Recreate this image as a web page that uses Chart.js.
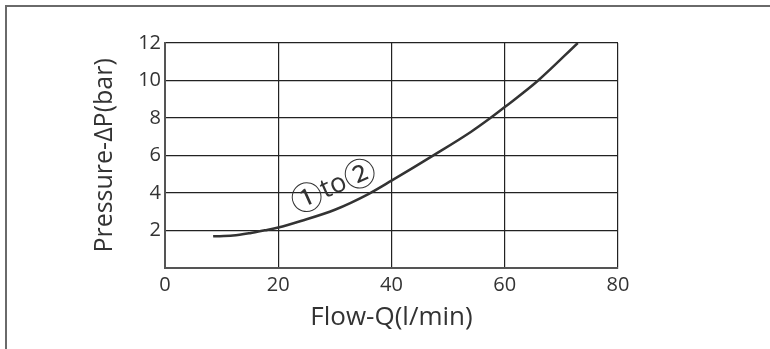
<!DOCTYPE html>
<html>
<head>
<meta charset="utf-8">
<script src="https://cdn.jsdelivr.net/npm/chart.js@4.4.1/dist/chart.umd.min.js"></script>
<style>
  html, body { margin: 0; padding: 0; background: #fff; }
  #wrap { width: 770px; height: 349px; position: relative; }
</style>
</head>
<body>
<div id="wrap"><canvas id="flowChart" width="770" height="349"></canvas></div>
<script>
// flow (l/min) and pressure drop (bar)
const flowValues = [8.5, 12, 15, 17.6, 20, 24, 30, 36, 40, 47.4, 54, 57.4, 60, 65.9, 72.9];
const pressureValues = [1.68, 1.72, 1.85, 2.0, 2.15, 2.5, 3.1, 3.95, 4.65, 6.0, 7.25, 7.98, 8.58, 10.0, 12.0];

const xTicks = [0, 20, 40, 60, 80];
const yTicks = [0, 2, 4, 6, 8, 10, 12];

// curve tag: circled port numbers around "to"
const curveLabelParts = ['\u2460', 'to', '\u2461'];
const curveLabelAt = { x: 29.7, y: 4.4 };

const points = flowValues.map((q, i) => ({ x: q, y: pressureValues[i] }));

// outer frame line (top + left) like the scanned sheet
const framePlugin = {
    id: 'frame',
    beforeDraw(chart) {
        const ctx = chart.ctx;
        ctx.save();
        ctx.strokeStyle = '#6a6a6a';
        ctx.lineWidth = 2;
        ctx.beginPath();
        ctx.moveTo(6, chart.height);
        ctx.lineTo(6, 6);
        ctx.lineTo(chart.width, 6);
        ctx.stroke();
        ctx.restore();
    }
};

// "①to②" written along the curve
const curveLabelPlugin = {
    id: 'curveLabel',
    afterDatasetsDraw(chart) {
        const { ctx, scales } = chart;
        const px = scales.x.getPixelForValue(curveLabelAt.x);
        const py = scales.y.getPixelForValue(curveLabelAt.y);
        const fonts = [
            '32px "Noto Sans CJK JP", sans-serif',
            '27px "Open Sans", sans-serif',
            '32px "Noto Sans CJK JP", sans-serif'
        ];
        ctx.save();
        ctx.translate(px, py);
        ctx.rotate(-24 * Math.PI / 180);
        ctx.fillStyle = '#333';
        ctx.textAlign = 'left';
        ctx.textBaseline = 'middle';
        const widths = curveLabelParts.map((t, i) => {
            ctx.font = fonts[i];
            return ctx.measureText(t).width;
        });
        let cx = -widths.reduce((a, b) => a + b, 0) / 2;
        curveLabelParts.forEach((t, i) => {
            ctx.font = fonts[i];
            ctx.fillText(t, cx, i === 1 ? 1 : 0);
            cx += widths[i];
        });
        ctx.restore();
    }
};

const ctx = document.getElementById('flowChart').getContext('2d');
new Chart(ctx, {
    type: 'scatter',
    data: {
        datasets: [{
            data: points,
            showLine: true,
            borderColor: '#333',
            borderWidth: 2.5,
            pointRadius: 0,
            cubicInterpolationMode: 'monotone',
            fill: false
        }]
    },
    options: {
        responsive: false,
        animation: false,
        layout: { padding: { left: 90, right: 152, top: 43, bottom: 16 } },
        plugins: {
            legend: { display: false },
            tooltip: { enabled: false }
        },
        scales: {
            x: {
                type: 'linear',
                min: 0,
                max: 80,
                afterBuildTicks: (axis) => { axis.ticks = xTicks.map(v => ({ value: v })); },
                grid: { color: '#222', lineWidth: 1.2, drawTicks: false },
                border: { color: '#555', width: 2 },
                ticks: {
                    color: '#333',
                    padding: 5,
                    font: { family: '"Open Sans", sans-serif', size: 20 }
                },
                title: {
                    display: true,
                    text: 'Flow-Q(l/min)',
                    color: '#333',
                    padding: { top: 0, bottom: 0 },
                    font: { family: '"Open Sans", sans-serif', size: 26 }
                }
            },
            y: {
                type: 'linear',
                min: 0,
                max: 12,
                afterBuildTicks: (axis) => { axis.ticks = yTicks.map(v => ({ value: v })); },
                grid: { color: '#222', lineWidth: 1.2, drawTicks: false },
                border: { color: '#555', width: 2 },
                ticks: {
                    color: '#333',
                    padding: 4,
                    font: { family: '"Open Sans", sans-serif', size: 20 },
                    callback: (v) => v === 0 ? '' : v
                },
                title: {
                    display: true,
                    text: 'Pressure-\u0394P(bar)',
                    color: '#333',
                    padding: { top: 0, bottom: 0 },
                    font: { family: '"Open Sans", sans-serif', size: 25 }
                },
                afterFit: (axis) => { axis.width = 75; }
            }
        }
    },
    plugins: [framePlugin, curveLabelPlugin]
});
</script>
</body>
</html>
